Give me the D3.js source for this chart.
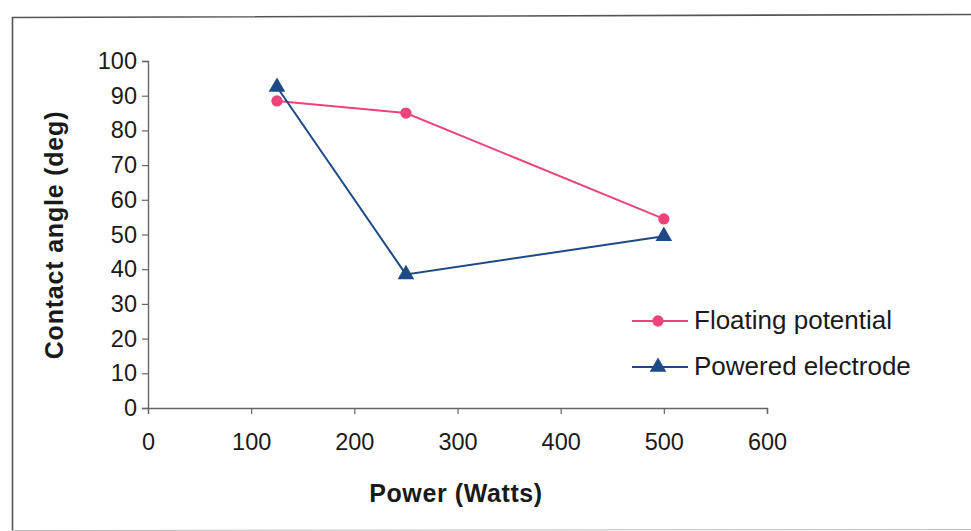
<!DOCTYPE html>
<html>
<head>
<meta charset="utf-8">
<script src="https://cdn.jsdelivr.net/npm/d3@7"></script>
<style>
  html, body { margin: 0; padding: 0; background: #fff; }
  svg { display: block; font-family: "Liberation Sans", Arial, sans-serif; }
</style>
</head>
<body>
<svg id="chart" width="971" height="531"></svg>
<script>
// Plasma power settings (W) and measured contact angles (deg)
const power = [125, 250, 500];
const floatingPotential = [88.5, 85, 54.5];
const poweredElectrode = [92.5, 38.5, 49.5];
const seriesNames = ["Floating potential", "Powered electrode"];
const xTicks = [0, 100, 200, 300, 400, 500, 600];
const yTicks = [0, 10, 20, 30, 40, 50, 60, 70, 80, 90, 100];

const svg = d3.select("#chart");

// outer chart-area frame
svg.append("path")
  .attr("d", "M12.5,531 L12.5,17.5 L971,14.5")
  .attr("fill", "none").attr("stroke", "#555").attr("stroke-width", 1.6);
svg.append("line")
  .attr("x1", 12).attr("x2", 971).attr("y1", 530.5).attr("y2", 529.5)
  .attr("stroke", "#bbb").attr("stroke-width", 1);

const plot = { left: 148, right: 767, top: 61, bottom: 408 };
const x = d3.scaleLinear().domain([0, 600]).range([plot.left, plot.right]);
const y = d3.scaleLinear().domain([0, 100]).range([plot.bottom, plot.top]);

const axisColor = "#666";

const yAxis = svg.append("g")
  .attr("transform", `translate(${plot.left},0)`)
  .call(d3.axisLeft(y).tickValues(yTicks).tickSize(6).tickPadding(5));
const xAxis = svg.append("g")
  .attr("transform", `translate(0,${plot.bottom})`)
  .call(d3.axisBottom(x).tickValues(xTicks).tickSize(6).tickPadding(19));

[xAxis, yAxis].forEach(g => {
  g.select(".domain").attr("stroke", axisColor).attr("stroke-width", 1.4);
  g.selectAll(".tick line").attr("stroke", axisColor).attr("stroke-width", 1.2);
  g.selectAll(".tick text")
    .attr("fill", "#1a1a1a")
    .style("font-size", "23.5px")
    .style("font-family", "'Liberation Sans', Arial, sans-serif");
});

// axis titles
svg.append("text")
  .attr("x", 456).attr("y", 502)
  .attr("text-anchor", "middle")
  .style("font-size", "25px").style("font-weight", "bold")
  .style("letter-spacing", "0.6px")
  .attr("fill", "#1a1a1a")
  .text("Power (Watts)");
svg.append("text")
  .attr("transform", "translate(63,235) rotate(-90)")
  .attr("text-anchor", "middle")
  .style("font-size", "25px").style("font-weight", "bold")
  .style("letter-spacing", "0.8px")
  .attr("fill", "#1a1a1a")
  .text("Contact angle (deg)");

const series = [
  { name: seriesNames[0], values: floatingPotential, color: "#ec4479", marker: "circle" },
  { name: seriesNames[1], values: poweredElectrode, color: "#1c4a86", marker: "triangle" }
];

const line = d3.line().x(d => x(d[0])).y(d => y(d[1]));
const circleSym = d3.symbol().type(d3.symbolCircle).size(100);
const triSym = d3.symbol().type(d3.symbolTriangle).size(120);

series.forEach(s => {
  const pts = power.map((p, i) => [p, s.values[i]]);
  svg.append("path")
    .datum(pts)
    .attr("d", line)
    .attr("fill", "none")
    .attr("stroke", s.color)
    .attr("stroke-width", 2);
  svg.append("g").selectAll("path")
    .data(pts)
    .join("path")
    .attr("transform", d => `translate(${x(d[0])},${y(d[1])})`)
    .attr("d", s.marker === "circle" ? circleSym : triSym)
    .attr("fill", s.color);
});

// legend
const legend = svg.append("g");
series.forEach((s, i) => {
  const ly = 321 + i * 46;
  legend.append("line")
    .attr("x1", 632).attr("x2", 688).attr("y1", ly).attr("y2", ly)
    .attr("stroke", s.color).attr("stroke-width", 2);
  legend.append("path")
    .attr("transform", `translate(658,${ly})`)
    .attr("d", s.marker === "circle" ? circleSym : triSym)
    .attr("fill", s.color);
  legend.append("text")
    .attr("x", 694).attr("y", ly + 8)
    .style("font-size", "26px")
    .attr("fill", "#1a1a1a")
    .text(s.name);
});
</script>
</body>
</html>
